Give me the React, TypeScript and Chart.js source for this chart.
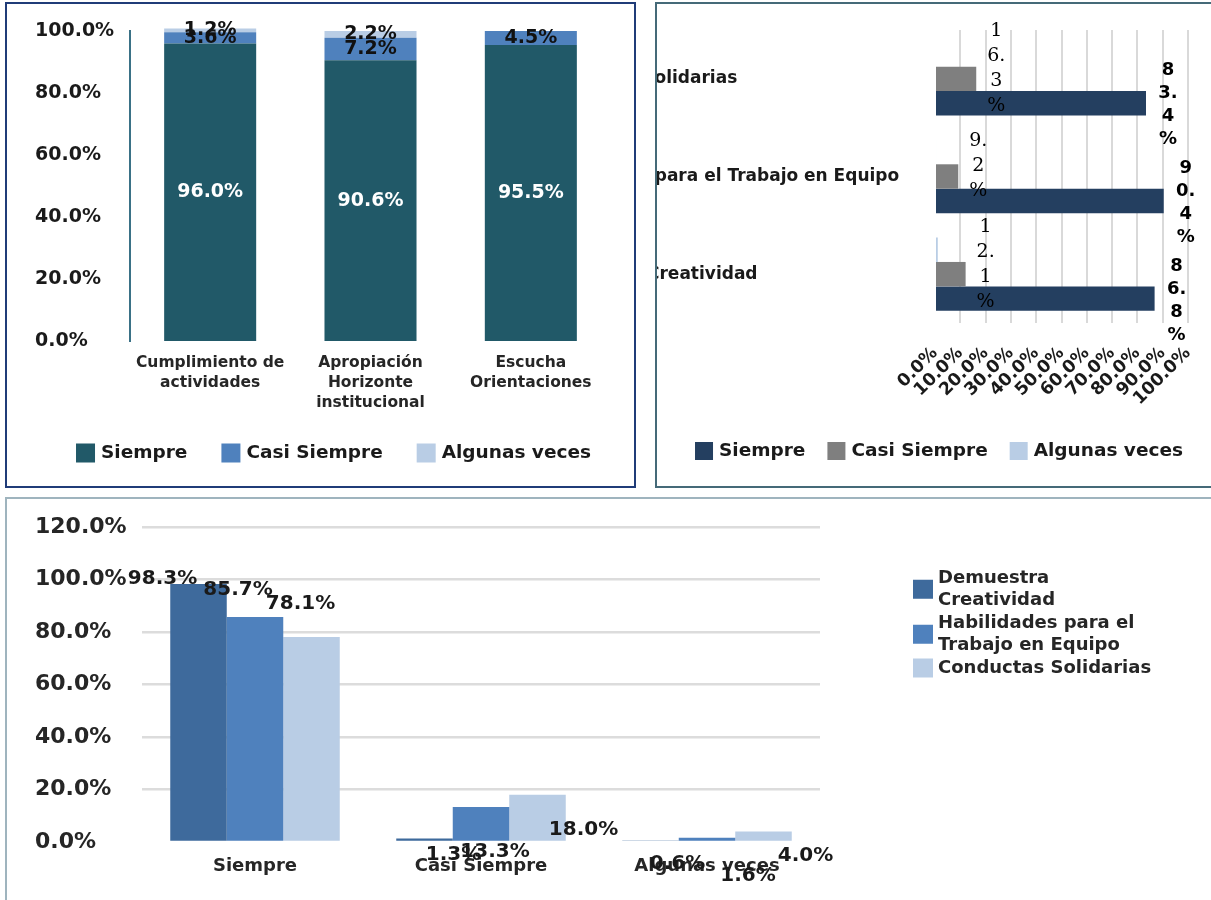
import React, { useEffect, useRef } from 'react';
import { Chart, registerables } from 'chart.js';

Chart.register(...registerables);

const FAMILY = '"DejaVu Sans", Verdana, sans-serif';
const SERIF = '"DejaVu Serif", serif';

// ---------- Chart 1 (stacked columns) ----------
const c1Categories = [
  ['Cumplimiento de', 'actividades'],
  ['Apropiación', 'Horizonte', 'institucional'],
  ['Escucha', 'Orientaciones'],
];
const c1SeriesNames = ['Siempre', 'Casi Siempre', 'Algunas veces'];
const c1Siempre = [96.0, 90.6, 95.5];
const c1CasiSiempre = [3.6, 7.2, 4.5];
const c1AlgunasVeces = [1.2, 2.2, 0];
const c1YMin = 0;
const c1YMax = 100;
const c1YStep = 20;

// ---------- Chart 2 (horizontal bars) ----------
const c2Categories = [
  'Conductas Solidarias',
  'Habilidades para el Trabajo en Equipo',
  'Demuestra Creatividad',
];
const c2SeriesNames = ['Siempre', 'Casi Siempre', 'Algunas veces'];
const c2Siempre = [83.4, 90.4, 86.8];
const c2CasiSiempre = [16.3, 9.2, 12.1];
const c2AlgunasVeces = [0, 0.4, 1.1];
const c2XMin = 0;
const c2XMax = 100;
const c2XStep = 10;

// ---------- Chart 3 (grouped columns) ----------
const c3Categories = ['Siempre', 'Casi Siempre', 'Algunas veces'];
const c3SeriesNames = [
  'Demuestra Creatividad',
  'Habilidades para el Trabajo en Equipo',
  'Conductas Solidarias',
];
const c3LegendLines = [
  ['Demuestra', 'Creatividad'],
  ['Habilidades para el', 'Trabajo en Equipo'],
  ['Conductas Solidarias'],
];
const c3Creatividad = [98.3, 1.3, 0.6];
const c3Equipo = [85.7, 13.3, 1.6];
const c3Solidarias = [78.1, 18.0, 4.0];
const c3YMin = 0;
const c3YMax = 120;
const c3YStep = 20;

// label placement tweaks for chart 3 (offset from bar top-centre), per series / category
const c3LabelDx = [[-36, 29, 27], [-17, 14, 41], [-11, 46, 42]];
const c3LabelDy = [[-5, 16, 23], [-27, 45, 38], [-33, 35, 24]];

const pct = (v: any) => Number(v).toFixed(1) + '%';

// ---------- plugins ----------
const rowLegend: any = {
  id: 'rowLegend',
  afterDraw(chart: any, _a: any, opts: any) {
    const { ctx } = chart;
    const items = opts.order.map((i: number) => chart.data.datasets[i]);
    ctx.save();
    ctx.font = opts.font;
    const widths = items.map((d: any) => ctx.measureText(d.label).width);
    const total =
      widths.reduce((a: number, w: number) => a + opts.box + opts.gap + w, 0) +
      opts.itemGap * (items.length - 1);
    let x = opts.centerX - total / 2;
    const y = opts.y;
    items.forEach((d: any, k: number) => {
      ctx.fillStyle = d.backgroundColor;
      ctx.fillRect(x, y - opts.box / 2, opts.box, opts.box);
      x += opts.box + opts.gap;
      ctx.fillStyle = opts.color;
      ctx.textBaseline = 'middle';
      ctx.textAlign = 'left';
      ctx.fillText(d.label, x, y);
      x += widths[k] + opts.itemGap;
    });
    ctx.restore();
  },
};

const colLegend: any = {
  id: 'colLegend',
  afterDraw(chart: any, _a: any, opts: any) {
    const { ctx } = chart;
    ctx.save();
    ctx.font = opts.font;
    ctx.textBaseline = 'middle';
    ctx.textAlign = 'left';
    let lineY = opts.y;
    chart.data.datasets.forEach((d: any, k: number) => {
      const lines = opts.lines[k];
      const mid = lineY + ((lines.length - 1) * opts.lineHeight) / 2;
      ctx.fillStyle = d.backgroundColor;
      ctx.fillRect(opts.x, mid - opts.boxH / 2, opts.boxW, opts.boxH);
      ctx.fillStyle = opts.color;
      lines.forEach((ln: string, j: number) => {
        ctx.fillText(ln, opts.x + opts.boxW + opts.gap, lineY + j * opts.lineHeight);
      });
      lineY += lines.length * opts.lineHeight;
    });
    ctx.restore();
  },
};

const c1Labels: any = {
  id: 'c1Labels',
  afterDatasetsDraw(chart: any) {
    const { ctx } = chart;
    const colors = ['#ffffff', '#111111', '#111111'];
    ctx.save();
    ctx.font = `bold 19px ${FAMILY}`;
    ctx.textAlign = 'center';
    ctx.textBaseline = 'middle';
    chart.data.datasets.forEach((ds: any, di: number) => {
      const meta = chart.getDatasetMeta(di);
      meta.data.forEach((bar: any, i: number) => {
        const v = ds.data[i];
        if (!v) return;
        const p = bar.getProps(['x', 'y', 'base'], true);
        ctx.fillStyle = colors[di];
        ctx.fillText(pct(v), p.x, (p.y + p.base) / 2);
      });
    });
    ctx.restore();
  },
};

function splitChars(s: string): string[] {
  const out: string[] = [];
  for (const ch of s) {
    if (ch === '.' && out.length) out[out.length - 1] += ch;
    else out.push(ch);
  }
  return out;
}

const c2Labels: any = {
  id: 'c2Labels',
  afterDatasetsDraw(chart: any) {
    const { ctx } = chart;
    const styles: any = {
      'Casi Siempre': { font: `19px ${SERIF}`, lh: 25, dx: 20, dy: -10 },
      Siempre: { font: `bold 18px ${FAMILY}`, lh: 23, dx: 22, dy: 2 },
    };
    ctx.save();
    ctx.textAlign = 'center';
    ctx.textBaseline = 'middle';
    ctx.fillStyle = '#000000';
    chart.data.datasets.forEach((ds: any, di: number) => {
      const st = styles[ds.label];
      if (!st) return;
      const meta = chart.getDatasetMeta(di);
      ctx.font = st.font;
      meta.data.forEach((bar: any, i: number) => {
        const v = ds.data[i];
        if (!v) return;
        const p = bar.getProps(['x', 'y'], true);
        const lines = splitChars(pct(v));
        const cy = p.y + st.dy;
        const y0 = cy - ((lines.length - 1) * st.lh) / 2;
        lines.forEach((ln, j) => ctx.fillText(ln, p.x + st.dx, y0 + j * st.lh));
      });
    });
    ctx.restore();
  },
};

const c3Labels: any = {
  id: 'c3Labels',
  afterDatasetsDraw(chart: any) {
    const { ctx } = chart;
    ctx.save();
    ctx.font = `bold 20px ${FAMILY}`;
    ctx.textAlign = 'center';
    ctx.textBaseline = 'middle';
    ctx.fillStyle = '#1a1a1a';
    chart.data.datasets.forEach((ds: any, di: number) => {
      const meta = chart.getDatasetMeta(di);
      meta.data.forEach((bar: any, i: number) => {
        const p = bar.getProps(['x', 'y'], true);
        ctx.fillText(pct(ds.data[i]), p.x + c3LabelDx[di][i], p.y + c3LabelDy[di][i]);
      });
    });
    ctx.restore();
  },
};

// ---------- configs ----------
function makeChart1(): any {
  const colors = ['#215968', '#4f81bd', '#b9cde5'];
  const values = [c1Siempre, c1CasiSiempre, c1AlgunasVeces];
  return {
    type: 'bar',
    data: {
      labels: c1Categories,
      datasets: c1SeriesNames.map((name, k) => ({
        label: name,
        data: values[k],
        backgroundColor: colors[k],
        borderWidth: 0,
        clip: false,
      })),
    },
    options: {
      animation: false,
      responsive: false,
      events: [],
      layout: { padding: { left: 28, right: 22, top: 27, bottom: 55 } },
      datasets: { bar: { categoryPercentage: 1, barPercentage: 0.574 } },
      scales: {
        x: {
          stacked: true,
          grid: { display: false, drawTicks: false },
          border: { display: false },
          ticks: {
            autoSkip: false,
            maxRotation: 0,
            padding: 12,
            color: '#262626',
            font: { family: FAMILY, size: 15.5, weight: 'bold', lineHeight: '20px' },
          },
          afterFit: (s: any) => { s.height = 90; },
        },
        y: {
          stacked: true,
          min: c1YMin,
          max: c1YMax,
          grid: { display: false, drawTicks: false },
          border: { display: true, color: '#3a7186', width: 2 },
          ticks: {
            stepSize: c1YStep,
            callback: (v: any) => pct(v),
            crossAlign: 'far',
            color: '#1a1a1a',
            font: { family: FAMILY, size: 19, weight: 'bold' },
          },
          afterFit: (s: any) => { s.width = 95; },
        },
      },
      plugins: {
        legend: { display: false },
        tooltip: { enabled: false },
        rowLegend: {
          order: [0, 1, 2],
          font: `bold 18.5px ${FAMILY}`,
          color: '#1a1a1a',
          box: 19,
          gap: 6,
          itemGap: 34,
          centerX: 326.5,
          y: 449,
        },
      },
    },
    plugins: [c1Labels, rowLegend],
  };
}

function makeChart2(): any {
  // drawn top to bottom inside each group: Algunas veces, Casi Siempre, Siempre
  const order = [2, 1, 0];
  const colors = ['#243f60', '#7f7f7f', '#b9cde5'];
  const values = [c2Siempre, c2CasiSiempre, c2AlgunasVeces];
  return {
    type: 'bar',
    data: {
      labels: c2Categories,
      datasets: order.map((k) => ({
        label: c2SeriesNames[k],
        data: values[k],
        backgroundColor: colors[k],
        borderWidth: 0,
      })),
    },
    options: {
      indexAxis: 'y',
      animation: false,
      responsive: false,
      events: [],
      layout: { padding: { left: 0, right: 23, top: 26, bottom: 70 } },
      datasets: { bar: { categoryPercentage: 0.75, barPercentage: 1 } },
      scales: {
        x: {
          min: c2XMin,
          max: c2XMax,
          grid: {
            drawTicks: false,
            lineWidth: 2,
            color: (c: any) => (c.tick && c.tick.value === 0 ? 'rgba(0,0,0,0)' : '#d9d9d9'),
          },
          border: { display: false },
          ticks: {
            stepSize: c2XStep,
            autoSkip: false,
            minRotation: 45,
            maxRotation: 45,
            padding: 20,
            callback: (v: any) => pct(v),
            color: '#1a1a1a',
            font: { family: FAMILY, size: 17.5, weight: 'bold' },
          },
          afterFit: (s: any) => {
            s.height = 93;
            s.paddingLeft = 0;
            s.paddingRight = 0;
          },
        },
        y: {
          grid: { display: false, drawTicks: false },
          border: { display: false },
          ticks: {
            autoSkip: false,
            crossAlign: 'far',
            color: '#1a1a1a',
            font: { family: FAMILY, size: 17, weight: 'bold' },
          },
          afterFit: (s: any) => {
            s.width = 399;
            s.paddingTop = 0;
            s.paddingBottom = 0;
          },
        },
      },
      plugins: {
        legend: { display: false },
        tooltip: { enabled: false },
        rowLegend: {
          order: [2, 1, 0],
          font: `bold 18.5px ${FAMILY}`,
          color: '#1a1a1a',
          box: 18,
          gap: 6,
          itemGap: 22,
          centerX: 403,
          y: 447,
        },
      },
    },
    plugins: [c2Labels, rowLegend],
  };
}

function makeChart3(): any {
  const colors = ['#3e6a9c', '#4f81bd', '#b9cde5'];
  const values = [c3Creatividad, c3Equipo, c3Solidarias];
  return {
    type: 'bar',
    data: {
      labels: c3Categories,
      datasets: c3SeriesNames.map((name, k) => ({
        label: name,
        data: values[k],
        backgroundColor: colors[k],
        borderWidth: 0,
      })),
    },
    options: {
      animation: false,
      responsive: false,
      events: [],
      layout: { padding: { left: 28, right: 391, top: 28, bottom: 0 } },
      datasets: { bar: { categoryPercentage: 0.75, barPercentage: 1 } },
      scales: {
        x: {
          grid: { display: false, drawTicks: false },
          border: { display: false },
          ticks: {
            autoSkip: false,
            maxRotation: 0,
            padding: 14,
            color: '#262626',
            font: { family: FAMILY, size: 18, weight: 'bold' },
          },
          afterFit: (s: any) => { s.height = 58; },
        },
        y: {
          min: c3YMin,
          max: c3YMax,
          grid: {
            drawTicks: false,
            lineWidth: 2.5,
            color: (c: any) => (c.tick && c.tick.value === 0 ? 'rgba(0,0,0,0)' : '#dcdcdc'),
          },
          border: { display: false },
          ticks: {
            stepSize: c3YStep,
            callback: (v: any) => pct(v),
            crossAlign: 'far',
            color: '#262626',
            font: { family: FAMILY, size: 22, weight: 'bold' },
          },
          afterFit: (s: any) => { s.width = 107; },
        },
      },
      plugins: {
        legend: { display: false },
        tooltip: { enabled: false },
        colLegend: {
          lines: c3LegendLines,
          font: `bold 18px ${FAMILY}`,
          color: '#262626',
          x: 906,
          y: 79,
          boxW: 20,
          boxH: 19,
          gap: 5,
          lineHeight: 22.5,
        },
      },
    },
    plugins: [c3Labels, colLegend],
  };
}

function ChartCanvas(props: { left: number; top: number; width: number; height: number; make: () => any }) {
  const ref = useRef<HTMLCanvasElement>(null);
  useEffect(() => {
    const chart = new Chart(ref.current as HTMLCanvasElement, props.make());
    return () => chart.destroy();
  }, []);
  return (
    <canvas
      ref={ref}
      width={props.width}
      height={props.height}
      style={{
        position: 'absolute',
        left: props.left,
        top: props.top,
        width: props.width,
        height: props.height,
      }}
    />
  );
}

export default function App() {
  return (
    <div
      style={{
        position: 'absolute',
        left: 0,
        top: 0,
        width: 1211,
        height: 900,
        background: '#ffffff',
        overflow: 'hidden',
      }}
    >
      <div
        style={{
          position: 'absolute',
          left: 5,
          top: 2,
          width: 631,
          height: 486,
          border: '2px solid #203c78',
          boxSizing: 'border-box',
          overflow: 'hidden',
        }}
      >
        <ChartCanvas left={0} top={0} width={626} height={482} make={makeChart1} />
      </div>
      <div
        style={{
          position: 'absolute',
          left: 655,
          top: 2,
          width: 560,
          height: 486,
          border: '2px solid #456a78',
          boxSizing: 'border-box',
          overflow: 'hidden',
        }}
      >
        <ChartCanvas left={-121} top={0} width={675} height={482} make={makeChart2} />
      </div>
      <div
        style={{
          position: 'absolute',
          left: 5,
          top: 497,
          width: 1210,
          height: 410,
          borderTop: '2px solid #9fb4be',
          borderLeft: '2px solid #9fb4be',
          boxSizing: 'border-box',
          overflow: 'hidden',
        }}
      >
        <ChartCanvas left={0} top={0} width={1204} height={401} make={makeChart3} />
      </div>
    </div>
  );
}
